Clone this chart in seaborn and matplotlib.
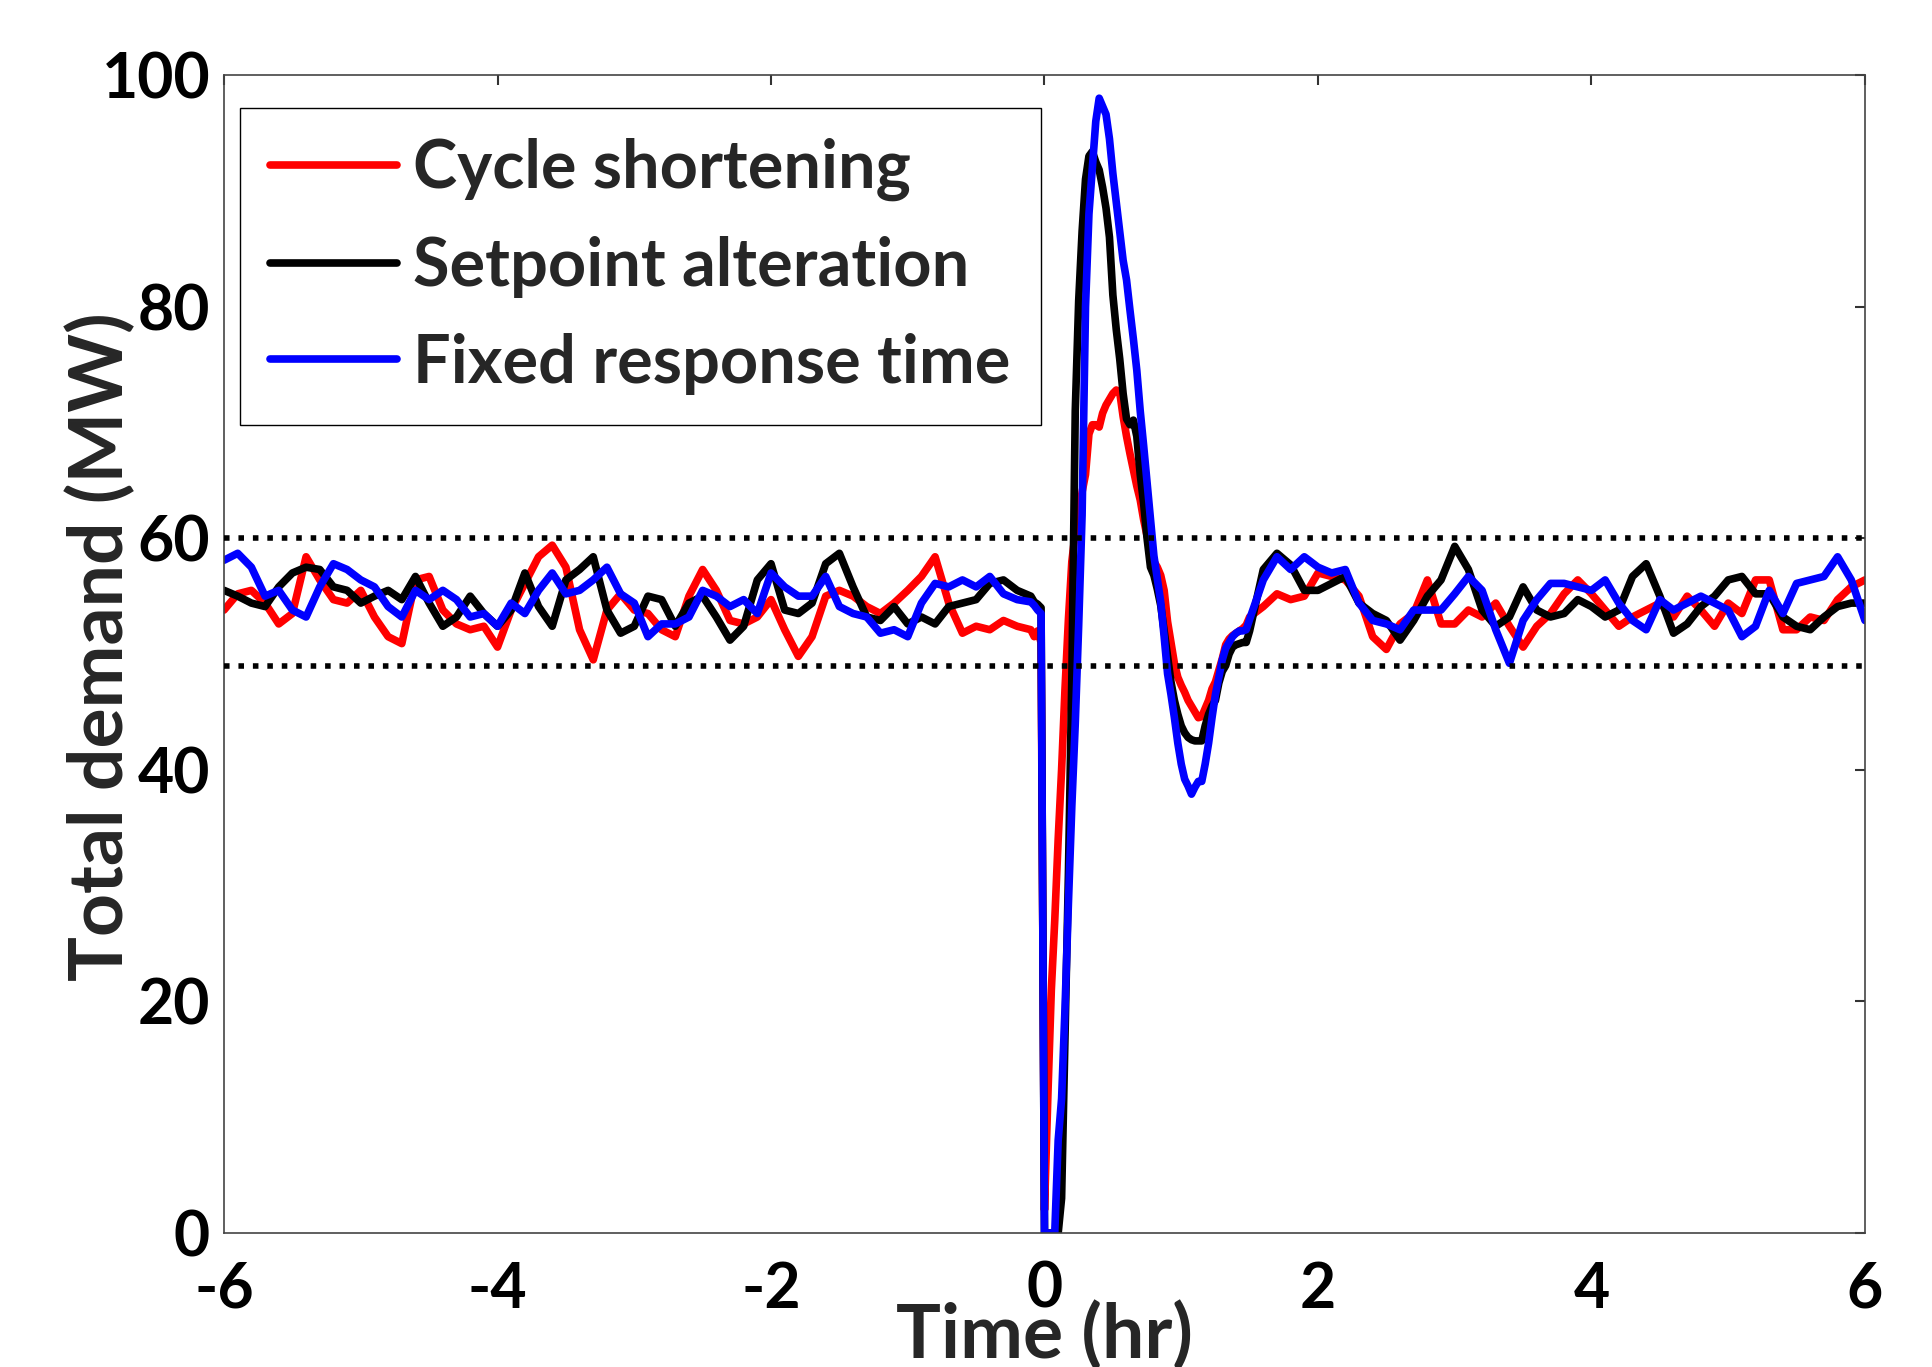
import numpy as np
import pandas as pd
import matplotlib
matplotlib.use("Agg")
import matplotlib.pyplot as plt
import seaborn as sns


# Time grid (hr): coarse before and after the event, fine around it
T_PRE = np.round(np.arange(-6.0, -0.15, 0.1), 3)
T_EVENT = np.round(np.arange(-0.1, 1.5001, 0.025), 3)
T_POST = np.round(np.arange(1.6, 6.0001, 0.1), 3)
TIME = np.concatenate([T_PRE, T_EVENT, T_POST])

# Cycle shortening (red), MW
RED_PRE = [53.8, 55.2, 55.5, 54.4, 52.6, 53.5, 58.4, 56.4, 54.7, 54.4,
           55.5, 53.2, 51.5, 50.9, 56.4, 56.7, 53.8, 52.6, 52.1, 52.4,
           50.6, 53.8, 56.1, 58.4, 59.4, 57.5, 52.1, 49.5, 53.8, 55.2,
           53.8,
           53.5, 52.1, 51.5, 55.0, 57.3, 55.5, 52.9, 52.6, 53.2, 54.7,
           52.1, 49.8, 51.5, 55.0, 55.5, 55.0, 54.1, 53.5, 54.4, 55.5,
           56.7, 58.4, 54.4, 51.8, 52.4, 52.1, 52.9, 52.4]
RED_EVENT = [52.1, 51.5, 52.0, 51.0,
             2, 12, 21, 27, 34, 40, 47, 53, 58, 60.5,
             62, 64, 65.5, 69, 69.8, 69.8, 69.6, 70.8, 71.5, 72.0,
             72.5, 72.8, 72.6, 70.5, 68.8, 67.3, 65.9, 64.5, 63.3, 61.6,
             60.2, 59.5, 58.0, 57.5, 56.8, 55.5, 52.8, 51.0, 49.2, 48.0,
             47.3, 46.7, 46.0, 45.5, 45.0, 44.5, 44.6, 45.3, 46.0, 47.0,
             47.6, 48.6, 49.6, 50.8, 51.3, 51.6, 51.8, 52.0, 52.2, 52.5,
             53.2]
RED_POST = [54.1, 55.2, 54.7, 55.0, 57.0, 56.7, 56.4, 55.0, 51.5, 50.4,
            52.6, 53.5, 56.4, 52.6, 52.6, 53.8, 53.2, 54.4, 52.4, 50.6,
            52.4, 53.5, 55.2, 56.4, 55.2, 53.8, 52.4, 53.2, 53.8, 54.4,
            53.2, 55.0, 53.8, 52.4, 54.4, 53.5, 56.4, 56.4, 52.1, 52.1,
            53.2, 52.9, 54.7, 55.8, 56.4]

# Setpoint alteration (black), MW
BLACK_PRE = [55.5, 55.0, 54.4, 54.1, 55.8, 57.0, 57.5, 57.3, 55.8, 55.5,
             54.4, 55.0, 55.5, 54.7, 56.7, 54.4, 52.4, 53.2, 55.0, 53.5,
             52.4, 53.8, 57.0, 54.1, 52.4, 56.4, 57.3, 58.4, 53.8, 51.8,
             52.4,
             55.0, 54.7, 52.4, 54.4, 55.0, 53.2, 51.2, 52.4, 56.4, 57.8,
             53.8, 53.5, 54.4, 57.8, 58.7, 55.8, 53.2, 52.9, 54.1, 52.6,
             53.2, 52.6, 54.1, 54.4, 54.7, 56.1, 56.4, 55.5]
BLACK_EVENT = [55.0, 54.5, 54.3, 54.0,
               0, 0, 0, 0, 0, 3, 17, 31, 48, 71,
               80.5, 86.5, 91.0, 93.0, 93.4, 92.5, 91.8, 90.3, 88.5, 86.0,
               81.0, 78.0, 75.5, 72.5, 70.3, 69.8, 70.2, 68.8, 65.5, 63.0,
               60.0, 57.5, 56.8, 55.6, 54.2, 52.0, 49.8, 47.6, 46.0, 44.8,
               43.8, 43.2, 42.8, 42.6, 42.5, 42.5, 42.5, 43.8, 44.8, 45.5,
               46.0, 47.5, 48.5, 49.0, 50.0, 50.6, 50.8, 50.9, 51.0, 51.0,
               52.0]
BLACK_POST = [57.3, 58.7, 57.7, 55.5, 55.5, 56.1, 56.7, 54.4, 53.5, 52.9,
              51.2, 52.9, 55.0, 56.4, 59.3, 57.3, 53.8, 52.4, 53.2, 55.8,
              53.8, 53.2, 53.5, 54.7, 54.1, 53.2, 53.8, 56.7, 57.8, 55.0,
              51.8, 52.6, 54.1, 55.0, 56.4, 56.7, 55.2, 55.2, 53.2, 52.4,
              52.1, 53.2, 54.1, 54.4, 54.4]

# Fixed response time (blue), MW
BLUE_PRE = [58.1, 58.7, 57.5, 55.0, 55.5, 53.8, 53.2, 55.8, 57.8, 57.3,
            56.4, 55.8, 54.1, 53.2, 55.5, 54.7, 55.5, 54.7, 53.2, 53.5,
            52.4, 54.4, 53.5, 55.5, 57.0, 55.2, 55.5, 56.4, 57.5, 55.2,
            54.4,
            51.5, 52.6, 52.6, 53.2, 55.5, 55.0, 54.1, 54.7, 53.5, 57.0,
            55.8, 55.0, 55.0, 56.7, 54.1, 53.5, 53.2, 51.8, 52.1, 51.5,
            54.4, 56.1, 55.8, 56.4, 55.8, 56.7, 55.2, 54.7]
BLUE_EVENT = [54.5, 54.2, 53.8, 53.5,
              0, 0, 0, 0, 8, 11.6, 19.4, 28.5, 36.9, 44,
              52.5, 62, 80, 88, 92, 96, 98, 97.3, 96.6, 94.5,
              91.5, 89, 86.5, 84, 82.3, 79.7, 77.2, 74.5, 71.0, 68.0,
              64.8, 61.5, 58.5, 56.5, 54.5, 51.5, 48.3, 46.5, 44.5, 42.3,
              40.5, 39.2, 38.6, 37.9, 38.5, 39.0, 39.0, 40.5, 42.3, 44.5,
              46.5, 48.0, 49.5, 50.5, 51.0, 51.5, 51.8, 52.0, 52.0, 52.1,
              53.0]
BLUE_POST = [56.4, 58.4, 57.3, 58.4, 57.5, 57.0, 57.3, 54.4, 52.9, 52.6,
             52.1, 53.8, 53.8, 53.8, 55.2, 56.7, 55.5, 52.1, 49.2, 52.9,
             54.7, 56.1, 56.1, 55.8, 55.5, 56.4, 54.4, 52.9, 52.1, 54.7,
             53.8, 54.4, 55.0, 54.4, 53.8, 51.5, 52.4, 55.5, 53.5, 56.1,
             56.4, 56.7, 58.4, 56.4, 52.9]

LIMITS = [60, 49]
LABELS = ["Cycle shortening", "Setpoint alteration", "Fixed response time"]
COLORS = ["#ff0000", "#000000", "#0000ff"]
X_TICKS = [-6, -4, -2, 0, 2, 4, 6]
Y_TICKS = [0, 20, 40, 60, 80, 100]


def build_frame():
    series = {
        LABELS[0]: RED_PRE + RED_EVENT + RED_POST,
        LABELS[1]: BLACK_PRE + BLACK_EVENT + BLACK_POST,
        LABELS[2]: BLUE_PRE + BLUE_EVENT + BLUE_POST,
    }
    frames = []
    for name, vals in series.items():
        assert len(vals) == len(TIME), (name, len(vals), len(TIME))
        frames.append(pd.DataFrame({"time": TIME, "demand": vals, "case": name}))
    return pd.concat(frames, ignore_index=True)


def main():
    sns.set_theme(style="white")
    plt.rcParams["font.family"] = ["Lato", "DejaVu Sans"]
    plt.rcParams["font.weight"] = "bold"

    df = build_frame()
    fig = plt.figure(figsize=(19.33, 13.67), dpi=100)
    ax = fig.add_axes([0.1159, 0.098, 0.8489, 0.8471])

    for name, color in zip(LABELS, COLORS):
        sub = df[df["case"] == name]
        sns.lineplot(data=sub, x="time", y="demand", color=color, linewidth=5.5,
                     estimator=None, sort=False, ax=ax, label=name)

    for lim in LIMITS:
        ax.axhline(lim, color="black", linewidth=4.0, linestyle=(0, (1, 1.6)), zorder=5)

    ax.set_xlim(-6, 6)
    ax.set_ylim(0, 100)
    ax.set_xticks(X_TICKS)
    ax.set_yticks(Y_TICKS)
    ax.set_xticklabels([str(t) for t in X_TICKS])
    ax.tick_params(axis="both", which="major", direction="in", length=7, width=1.5,
                   top=True, right=True, labelsize=45, colors="#333333", labelcolor="black")
    ax.tick_params(axis="x", pad=20)
    ax.tick_params(axis="y", pad=10)
    for lab in ax.get_xticklabels() + ax.get_yticklabels():
        lab.set_fontweight("bold")
    for sp in ax.spines.values():
        sp.set_color("#444444")
        sp.set_linewidth(1.2)

    ax.set_xlabel("Time (hr)", fontsize=54, fontweight="bold")
    ax.set_ylabel("Total demand (MW)", fontsize=54, fontweight="bold")
    ax.xaxis.set_label_coords(0.5, -0.058)
    ax.yaxis.set_label_coords(-0.0535, 0.506)

    leg = ax.legend(loc="upper left", bbox_to_anchor=(0.0097, 0.9715), fontsize=48,
                    frameon=True, fancybox=False, framealpha=1, edgecolor="black",
                    handlelength=1.9, handletextpad=0.25, labelspacing=0.52, borderpad=0.45,
                    borderaxespad=0)
    leg.get_frame().set_linewidth(1.0)
    for txt in leg.get_texts():
        txt.set_fontweight("bold")
    for line in leg.get_lines():
        line.set_linewidth(5.5)

    fig.savefig("out.png", dpi=100)
    plt.close(fig)


if __name__ == "__main__":
    main()
